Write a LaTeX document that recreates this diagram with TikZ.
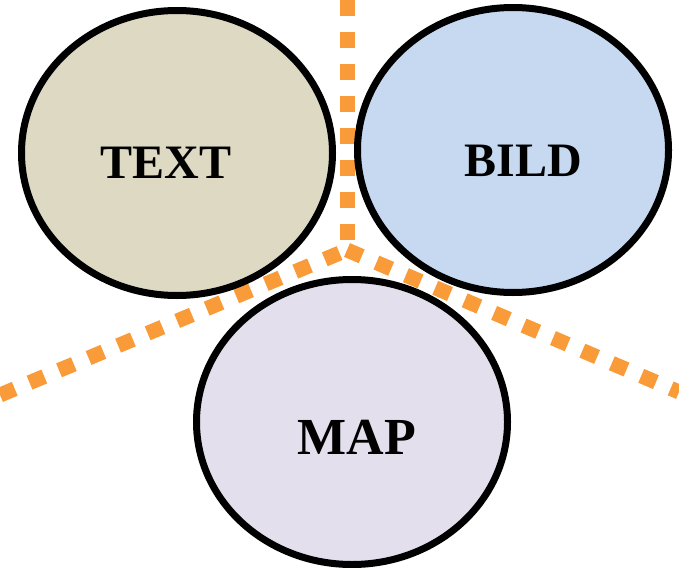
\documentclass[tikz,border=0pt]{standalone}
\usepackage{fontspec}
\setmainfont{Liberation Serif}
\usetikzlibrary{shapes.geometric}
\definecolor{tanfill}{HTML}{DDD9C3}
\definecolor{bluefill}{HTML}{C6D9F1}
\definecolor{lilacfill}{HTML}{E4DFEC}
\definecolor{sepcolor}{HTML}{F99B38}
\tikzset{
  blob/.style={ellipse, draw=black, line width=7pt, inner sep=0pt, minimum width=311pt, minimum height=285pt},
  sep/.style={sepcolor, line width=15pt, dash pattern=on 16pt off 16pt},
  word/.style={font=\bfseries\fontsize{48}{50}\selectfont, inner sep=0pt}
}
\begin{document}
\begin{tikzpicture}[x=1pt,y=-1pt]
\useasboundingbox (0,0) rectangle (679,567);
\coordinate (top) at (347,0);
\coordinate (hub) at (347,250);
\coordinate (west) at (0,395);
\coordinate (east) at (679,392);
\draw[sep] (top) -- (hub);
\draw[sep] (west) -- (hub);
\draw[sep] (hub) -- (east);
\node[blob, fill=tanfill] (text) at (177,153) {};
\node[blob, fill=bluefill] (bild) at (513,150) {};
\node[blob, fill=lilacfill] (map) at (352,422) {};
\node[word] (textlbl) at ([shift={(-11,10)}]text.center) {TEXT};
\node[word] (bildlbl) at ([shift={(10,11)}]bild.center) {BILD};
\node[word, font=\bfseries\fontsize{52}{54}\selectfont] (maplbl) at ([shift={(5,15)}]map.center) {MAP};
\end{tikzpicture}
\end{document}
